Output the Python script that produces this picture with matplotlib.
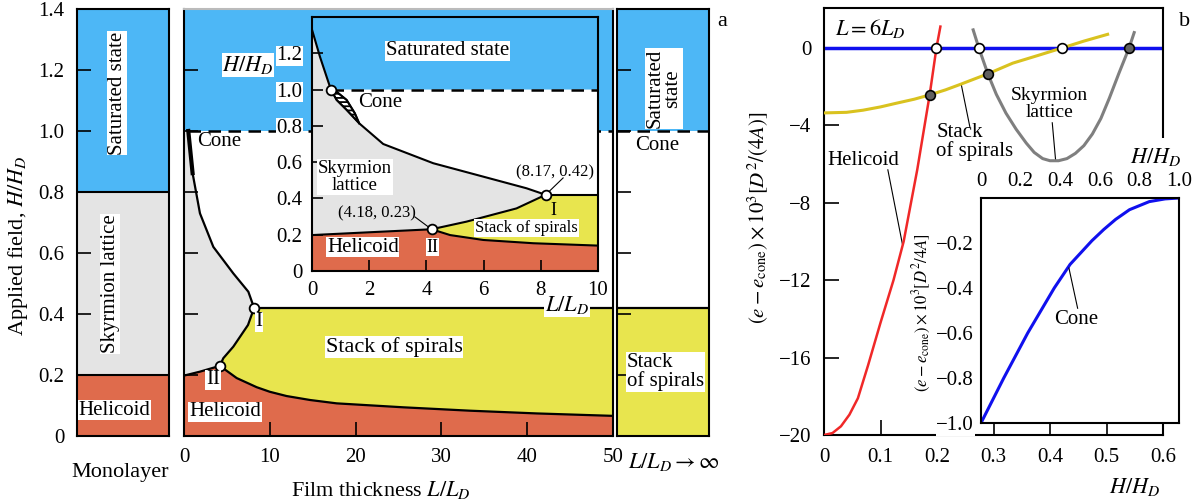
import numpy as np
import matplotlib
matplotlib.use('Agg')
import matplotlib.pyplot as plt
from matplotlib.patches import Rectangle

plt.rcParams['font.family'] = ['Liberation Serif', 'DejaVu Serif']
plt.rcParams['mathtext.fontset'] = 'stix'
plt.rcParams['hatch.linewidth'] = 1.3
plt.rcParams['axes.linewidth'] = 1.5

# phase colours
c_sat = '#4db7f6'
c_sky = '#e4e4e4'
c_heli = '#df6b4c'
c_stack = '#e8e54e'

# ---- panel a data ----
# monolayer phase boundaries (H/H_D)
mono_bounds = [0.0, 0.2, 0.8, 1.4]

# film thickness: boundaries (L/L_D, H/H_D)
pt_I = (8.17, 0.42)
pt_II = (4.18, 0.23)
skycone_L = [0.5, 1.0, 1.86, 3.42, 5.75, 7.5, 8.17]
skycone_H = [1.0, 0.862, 0.73, 0.62, 0.533, 0.473, 0.42]
skystack_L = [8.17, 7.46, 5.75, 4.58, 4.18]
skystack_H = [0.42, 0.364, 0.293, 0.255, 0.23]
skyheli_L = [0.0, 1.86, 4.18]
skyheli_H = [0.198, 0.211, 0.23]
helistack_L = [4.18, 6.14, 8.47, 10.0, 11.96, 14.7, 17.8, 25.6, 33.3, 41.1, 50.0]
helistack_H = [0.23, 0.19, 0.16, 0.145, 0.131, 0.118, 0.107, 0.094, 0.083, 0.074, 0.066]

# inset (zoom on thin films)
ins_sat_L = [0.0, 0.28, 0.66]
ins_sat_H = [1.33, 1.18, 1.0]
ins_skycone_L = [0.66, 0.86, 1.21, 1.65, 2.49, 4.24, 5.99, 7.5, 8.17]
ins_skycone_H = [1.0, 0.943, 0.888, 0.814, 0.70, 0.594, 0.52, 0.456, 0.42]
hatch_L = [0.66, 0.86, 1.21, 1.50, 1.65]
hatch_H = [1.0, 0.988, 0.943, 0.869, 0.814]
ins_skystack_L = [8.17, 7.15, 5.4, 4.18]
ins_skystack_H = [0.42, 0.345, 0.272, 0.23]
ins_skyheli_L = [0.0, 1.94, 4.18]
ins_skyheli_H = [0.198, 0.213, 0.23]
ins_helistack_L = [4.18, 4.83, 5.99, 7.74, 10.0]
ins_helistack_H = [0.23, 0.198, 0.171, 0.153, 0.14]

# ---- panel b data (L = 6 L_D) ----
H_heli = [0.0, 0.015, 0.03, 0.045, 0.06, 0.078, 0.1, 0.123, 0.141, 0.165, 0.187, 0.199, 0.206]
e_heli = [-20.0, -19.9, -19.55, -18.95, -18.1, -16.4, -14.2, -12.0, -10.0, -6.3, -2.43, 0.0, 1.1]
H_stack = [0.0, 0.04, 0.069, 0.1, 0.128, 0.16, 0.187, 0.215, 0.24, 0.265, 0.29, 0.334, 0.38, 0.422, 0.46, 0.502]
e_stack = [-3.36, -3.33, -3.22, -3.05, -2.86, -2.65, -2.43, -2.17, -1.9, -1.62, -1.34, -0.79, -0.38, 0.0, 0.35, 0.7]
H_sky = [0.264, 0.274, 0.29, 0.305, 0.322, 0.34, 0.358, 0.372, 0.387, 0.40, 0.415,
         0.43, 0.445, 0.46, 0.475, 0.49, 0.505, 0.522, 0.54, 0.549]
e_sky = [0.93, 0.0, -1.34, -2.4, -3.37, -4.2, -4.92, -5.4, -5.72, -5.83, -5.83,
         -5.72, -5.45, -5.05, -4.45, -3.65, -2.6, -1.31, 0.0, 0.79]
open_H = [0.199, 0.274, 0.422]
open_e = [0.0, 0.0, 0.0]
filled_H = [0.187, 0.29, 0.54]
filled_e = [-2.43, -1.34, 0.0]
H_cone = [0.0, 0.115, 0.236, 0.37, 0.45, 0.56, 0.62, 0.68, 0.75, 0.85, 0.93, 1.0]
e_cone = [-1.0, -0.8, -0.6, -0.4, -0.295, -0.19, -0.14, -0.095, -0.052, -0.016, -0.004, 0.0]

W, Hpx = 1204, 504
fig = plt.figure(figsize=(W / 100, Hpx / 100), dpi=100)


def box(x0, y0, x1, y1):
    # pixel box (top-left origin) -> figure fraction rect
    return [x0 / W, 1 - y1 / Hpx, (x1 - x0) / W, (y1 - y0) / Hpx]


def ftxt(px, py, s, **kw):
    return fig.text(px / W, 1 - py / Hpx, s, **kw)


wbox = dict(facecolor='white', edgecolor='none', pad=0.5)
fs = 15

# ---------- monolayer ----------
ax1 = fig.add_axes(box(77, 9, 169, 436))
ax1.set_xlim(0, 1)
ax1.set_ylim(0, 1.4)
for lo, hi, c in zip(mono_bounds[:-1], mono_bounds[1:], [c_heli, c_sky, c_sat]):
    ax1.axhspan(lo, hi, color=c, lw=0)
for b in mono_bounds[1:-1]:
    ax1.axhline(b, color='k', lw=1.5)
ax1.set_xticks([])
ax1.set_yticks(np.arange(0, 1.41, 0.2))
ax1.set_yticklabels(['0', '0.2', '0.4', '0.6', '0.8', '1.0', '1.2', '1.4'])
ax1.tick_params(direction='in', length=10, width=1.2, labelsize=fs, pad=9)
ax1.text(0.435, 1.125, 'Saturated state', rotation=90, ha='center', va='center',
         fontsize=fs, bbox=wbox, transform=ax1.get_yaxis_transform())
ax1.text(0.36, 0.5, 'Skyrmion lattice', rotation=90, ha='center', va='center',
         fontsize=fs, bbox=wbox, transform=ax1.get_yaxis_transform())
ax1.text(0.41, 0.085, 'Helicoid', ha='center', va='center',
         fontsize=fs, bbox=wbox, transform=ax1.get_yaxis_transform())
ftxt(120, 473, 'Monolayer', ha='center', va='center', fontsize=16)
ftxt(18, 246, 'Applied field, $H/H_D$', rotation=90, ha='center', va='center', fontsize=16)

# ---------- film thickness ----------
ax2 = fig.add_axes(box(184, 9, 613, 436))
ax2.set_xlim(0, 50)
ax2.set_ylim(0, 1.4)
ax2.axhspan(1.0, 1.4, color=c_sat, lw=0)
gx = skyheli_L + skystack_L[::-1][1:] + skycone_L[::-1][1:] + [0.0]
gy = skyheli_H + skystack_H[::-1][1:] + skycone_H[::-1][1:] + [1.0]
ax2.fill(gx, gy, color=c_sky, lw=0)
ax2.fill([0.0] + skyheli_L + helistack_L[1:] + [50.0],
         [0.0] + skyheli_H + helistack_H[1:] + [0.0], color=c_heli, lw=0)
ax2.fill(skystack_L[::-1] + [50.0] + helistack_L[::-1],
         skystack_H[::-1] + [0.42] + helistack_H[::-1], color=c_stack, lw=0)
for xs, ys in [(skycone_L, skycone_H), (skystack_L, skystack_H),
               (skyheli_L, skyheli_H), (helistack_L, helistack_H)]:
    ax2.plot(xs, ys, color='k', lw=1.6)
ax2.plot(skycone_L[:2], skycone_H[:2], color='k', lw=3.0)
ax2.plot([pt_I[0], 50], [0.42, 0.42], color='k', lw=1.6)
ax2.plot([0.5, 50], [1.0, 1.0], color='k', lw=1.8, ls=(0, (5, 3)))
ax2.plot([pt_I[0], pt_II[0]], [pt_I[1], pt_II[1]], 'o', ms=7, mfc='white', mec='k', mew=1.3)
ax2.set_xticks([0, 10, 20, 30, 40, 50])
ax2.set_xticklabels(['0', '10', '20', '30', '40', '50'])
ax2.set_yticks(np.arange(0.2, 1.41, 0.2))
ax2.set_yticklabels([])
ax2.tick_params(direction='in', length=10, width=1.2, labelsize=fs, pad=9)
ax2.spines['top'].set_color('#bbbbbb')
ax2.text(1.5, 0.964, 'Cone', ha='left', va='center', fontsize=fs)
ax2.text(8.74, 0.374, 'I', ha='center', va='center', fontsize=fs, bbox=wbox)
ax2.text(3.38, 0.184, 'II', ha='center', va='center', fontsize=fs, bbox=wbox)
ax2.text(24.5, 0.292, 'Stack of spirals', ha='center', va='center', fontsize=16, bbox=wbox)
ax2.text(4.78, 0.079, 'Helicoid', ha='center', va='center', fontsize=fs, bbox=wbox)
ftxt(381, 490, 'Film thickness $L/L_D$', ha='center', va='center', fontsize=16)

# ---------- L -> infinity ----------
ax3 = fig.add_axes(box(617, 9, 709, 436))
ax3.set_xlim(0, 1)
ax3.set_ylim(0, 1.4)
ax3.axhspan(1.0, 1.4, color=c_sat, lw=0)
ax3.axhspan(0, 0.42, color=c_stack, lw=0)
ax3.axhline(0.42, color='k', lw=1.6)
ax3.axhline(1.0, color='k', lw=1.8, ls=(0, (5, 3)))
ax3.set_xticks([])
ax3.set_yticks(np.arange(0.2, 1.41, 0.2))
ax3.set_yticklabels([])
ax3.tick_params(direction='in', length=10, width=1.2)
ax3.text(0.51, 1.14, 'Saturated\nstate', rotation=90, ha='center', va='center',
         fontsize=fs, bbox=wbox, linespacing=0.95)
ax3.text(0.435, 0.954, 'Cone', ha='center', va='center', fontsize=fs)
ax3.text(0.109, 0.21, 'Stack\nof spirals', ha='left', va='center', fontsize=fs,
         bbox=wbox, linespacing=0.95)
ftxt(628, 462, r'$L/L_D \rightarrow \infty$', ha='left', va='center', fontsize=16)
ftxt(722, 22, 'a', ha='center', va='center', fontsize=16)

# ---------- inset of panel a ----------
axi = fig.add_axes(box(312, 17, 598, 271))
axi.set_xlim(0, 10)
axi.set_ylim(0, 1.4)
axi.set_facecolor('white')
axi.fill([0.0] + ins_sat_L + [10.0, 10.0], [1.4] + ins_sat_H + [1.0, 1.4], color=c_sat, lw=0)
gx = (ins_skyheli_L + ins_skystack_L[::-1][1:] + ins_skycone_L[::-1][1:] + ins_sat_L[::-1][1:])
gy = (ins_skyheli_H + ins_skystack_H[::-1][1:] + ins_skycone_H[::-1][1:] + ins_sat_H[::-1][1:])
axi.fill(gx, gy, color=c_sky, lw=0)
axi.fill([0.0] + ins_skyheli_L + ins_helistack_L[1:] + [10.0],
         [0.0] + ins_skyheli_H + ins_helistack_H[1:] + [0.0], color=c_heli, lw=0)
axi.fill(ins_skystack_L[::-1] + [10.0] + ins_helistack_L[::-1],
         ins_skystack_H[::-1] + [0.42] + ins_helistack_H[::-1], color=c_stack, lw=0)
axi.fill(hatch_L + ins_skycone_L[:4][::-1], hatch_H + ins_skycone_H[:4][::-1],
         facecolor='white', edgecolor='k', hatch='----', lw=1.2)
for xs, ys in [(ins_sat_L, ins_sat_H), (ins_skycone_L, ins_skycone_H), (hatch_L, hatch_H),
               (ins_skystack_L, ins_skystack_H), (ins_skyheli_L, ins_skyheli_H),
               (ins_helistack_L, ins_helistack_H)]:
    axi.plot(xs, ys, color='k', lw=1.5)
axi.plot([pt_I[0], 10], [0.42, 0.42], color='k', lw=1.5)
axi.plot([0.66, 10], [1.0, 1.0], color='k', lw=1.8, ls=(0, (5, 3)))
axi.plot([0.66, pt_I[0], pt_II[0]], [1.0, pt_I[1], pt_II[1]], 'o', ms=7,
         mfc='white', mec='k', mew=1.3, zorder=5)
axi.plot([pt_I[0], 8.78], [pt_I[1], 0.513], color='k', lw=0.8)
axi.plot([3.6, pt_II[0]], [0.298, pt_II[1]], color='k', lw=0.8)
axi.set_xticks([0, 2, 4, 6, 8, 10])
axi.set_xticklabels(['0', '2', '4', '6', '8', '10'])
axi.set_yticks(np.arange(0, 1.21, 0.2))
axi.set_yticklabels(['0', '0.2', '0.4', '0.6', '0.8', '1.0', '1.2'])
axi.tick_params(direction='in', length=8, width=1.2, labelsize=fs, pad=7)
for lab in axi.get_yticklabels() + axi.get_xticklabels():
    lab.set_bbox(wbox)
axi.text(4.74, 1.213, 'Saturated state', ha='center', va='center', fontsize=fs, bbox=wbox)
axi.text(1.61, 0.926, 'Cone', ha='left', va='center', fontsize=fs)
axi.text(1.5, 0.518, 'Skyrmion\nlattice', ha='center', va='center', fontsize=13.5,
         bbox=wbox, linespacing=1.0)
axi.text(8.5, 0.546, '(8.17, 0.42)', ha='center', va='center', fontsize=12)
axi.text(2.26, 0.32, '(4.18, 0.23)', ha='center', va='center', fontsize=12)
axi.text(8.43, 0.336, 'I', ha='center', va='center', fontsize=13)
axi.text(4.22, 0.132, 'II', ha='center', va='center', fontsize=13, bbox=wbox)
axi.text(7.5, 0.237, 'Stack of spirals', ha='center', va='center', fontsize=12, bbox=wbox)
axi.text(1.78, 0.132, 'Helicoid', ha='center', va='center', fontsize=fs, bbox=wbox)
ftxt(248, 65, '$H/H_D$', ha='center', va='center', fontsize=16, bbox=wbox)
ftxt(567, 305, '$L/L_D$', ha='center', va='center', fontsize=16, bbox=wbox)

# ---------- panel b ----------
axb = fig.add_axes(box(824, 8, 1163, 435))
axb.set_xlim(0, 0.6)
axb.set_ylim(-20, 2.06)
axb.axhline(0, color='#1010ee', lw=2.5, zorder=2)
axb.plot(H_stack, e_stack, color='#d9c21f', lw=2.2, zorder=3)
axb.plot(H_sky, e_sky, color='#7f7f7f', lw=2.2, zorder=3)
axb.plot(H_heli, e_heli, color='#f02828', lw=1.8, zorder=4)
axb.plot(open_H, open_e, 'o', ms=7, mfc='white', mec='k', mew=1.2, zorder=6)
axb.plot(filled_H, filled_e, 'o', ms=7, mfc='#606060', mec='k', mew=1.2, zorder=6)
axb.set_xticks([0, 0.1, 0.2, 0.3, 0.4, 0.5, 0.6])
axb.set_xticklabels(['0', '0.1', '0.2', '0.3', '0.4', '0.5', '0.6'])
axb.set_yticks([-20, -16, -12, -8, -4, 0])
axb.tick_params(direction='in', length=11, width=1.2, labelsize=fs, pad=9)
axb.text(0.02, 1.0, '$L = 6L_D$', ha='left', va='center', fontsize=16)
axb.text(0.069, -5.8, 'Helicoid', ha='center', va='center', fontsize=fs)
axb.plot([0.113, 0.139], [-6.3, -10.17], color='k', lw=0.8)
axb.text(0.199, -4.85, 'Stack\nof spirals', ha='left', va='center', fontsize=fs, linespacing=0.95)
axb.plot([0.243, 0.258], [-1.9, -4.06], color='k', lw=0.8)
axb.text(0.399, -2.9, 'Skyrmion\nlattice', ha='center', va='center', fontsize=14, linespacing=0.95)
axb.plot([0.404, 0.41], [-3.87, -5.83], color='k', lw=0.8)
ftxt(758, 218, r'$(e - e_{\mathrm{cone}}) \times 10^3 [D^2/(4A)]$', rotation=90,
     ha='center', va='center', fontsize=15)
ftxt(1160, 487, '$H/H_D$', ha='right', va='center', fontsize=16)
ftxt(1185, 22, 'b', ha='center', va='center', fontsize=16)

# white patch hiding the right spine next to the inset labels
fig.patches.append(Rectangle((1110 / W, 1 - 200 / Hpx), 94 / W, 62 / Hpx,
                             transform=fig.transFigure, facecolor='white',
                             edgecolor='none', zorder=1))

# ---------- inset of panel b ----------
axc = fig.add_axes(box(981, 198, 1179, 423))
axc.set_zorder(3)
axc.set_facecolor('white')
axc.set_xlim(0, 1.0)
axc.set_ylim(-1.0, 0.0)
axc.plot(H_cone, e_cone, color='#1010ee', lw=2.2)
axc.xaxis.tick_top()
axc.set_xticks([0, 0.2, 0.4, 0.6, 0.8, 1.0])
axc.set_xticklabels(['0', '0.2', '0.4', '0.6', '0.8', '1.0'])
axc.set_yticks([-1.0, -0.8, -0.6, -0.4, -0.2])
axc.set_yticklabels(['\u22121.0', '\u22120.8', '\u22120.6', '\u22120.4', '\u22120.2'])
axc.tick_params(length=0, labelsize=fs, pad=5)
for lab in axc.get_yticklabels() + axc.get_xticklabels():
    lab.set_bbox(wbox)
axc.text(0.48, -0.54, 'Cone', ha='center', va='center', fontsize=fs)
axc.plot([0.488, 0.444], [-0.49, -0.311], color='k', lw=0.8)
ftxt(1156, 157, '$H/H_D$', ha='center', va='center', fontsize=16, bbox=wbox, zorder=4)
ftxt(922, 313, r'$(e - e_{\mathrm{cone}}) \times 10^3 [D^2/4A]$', rotation=90,
     ha='center', va='center', fontsize=12)

fig.savefig('out.png', dpi=100)
